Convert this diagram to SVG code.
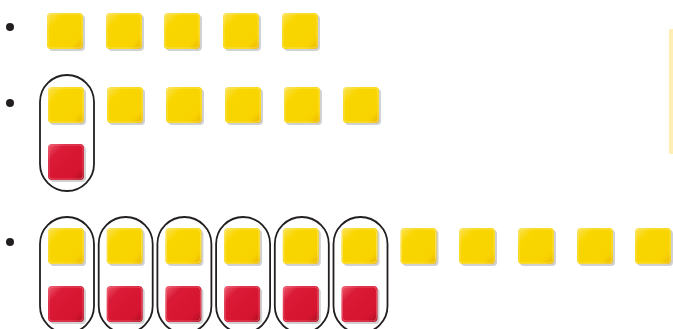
<svg xmlns="http://www.w3.org/2000/svg" xmlns:xlink="http://www.w3.org/1999/xlink" width="673" height="329" viewBox="0 0 673 329">
<style>
.bullet{fill:#231f20}
.oval{fill:none;stroke:#231f20;stroke-width:1.8}
</style>
<defs>
<linearGradient id="gy" x1="0" y1="0" x2="1" y2="1">
<stop offset="0" stop-color="#FBE25A"/>
<stop offset="0.25" stop-color="#F9D600"/>
<stop offset="0.8" stop-color="#F8D300"/>
<stop offset="1" stop-color="#E9B400"/>
</linearGradient>
<linearGradient id="gr" x1="0" y1="0" x2="1" y2="1">
<stop offset="0" stop-color="#EE5A6E"/>
<stop offset="0.25" stop-color="#DA1A36"/>
<stop offset="0.8" stop-color="#D5142F"/>
<stop offset="1" stop-color="#A80E22"/>
</linearGradient>
<g id="ys">
<rect x="2" y="2" width="36" height="36" rx="4" fill="#9a9a9a" opacity="0.45"/>
<rect x="0" y="0" width="36" height="36" rx="4" fill="url(#gy)"/>
<rect x="1" y="1" width="34" height="34" rx="3.5" fill="none" stroke="#FDEB8A" stroke-width="0.8" opacity="0.7"/>
</g>
<g id="rs">
<rect x="2" y="2" width="36" height="36" rx="4" fill="#9a9a9a" opacity="0.45"/>
<rect x="0" y="0" width="36" height="36" rx="4" fill="url(#gr)"/>
<rect x="1" y="1" width="34" height="34" rx="3.5" fill="none" stroke="#F28A98" stroke-width="0.8" opacity="0.6"/>
</g>
</defs>
<rect x="669" y="29" width="4" height="125" fill="#FFEFB5"/>
<g id="bullets">
<circle class="bullet" cx="10" cy="27" r="4"/>
<circle class="bullet" cx="10" cy="103" r="4"/>
<circle class="bullet" cx="10" cy="242" r="4"/>
</g>
<g id="row1">
<use xlink:href="#ys" x="47" y="13"/>
<use xlink:href="#ys" x="106" y="13"/>
<use xlink:href="#ys" x="164" y="13"/>
<use xlink:href="#ys" x="223" y="13"/>
<use xlink:href="#ys" x="282" y="13"/>
</g>
<g id="row2">
<use xlink:href="#ys" x="48" y="87"/>
<use xlink:href="#rs" x="48" y="144"/>
<use xlink:href="#ys" x="107" y="87"/>
<use xlink:href="#ys" x="166" y="87"/>
<use xlink:href="#ys" x="225" y="87"/>
<use xlink:href="#ys" x="284" y="87"/>
<use xlink:href="#ys" x="343" y="87"/>
<rect class="oval" x="40" y="75" width="54" height="116" rx="27"/>
</g>
<g id="row3">
<use xlink:href="#ys" x="48" y="228"/>
<use xlink:href="#ys" x="106.7" y="228"/>
<use xlink:href="#ys" x="165.4" y="228"/>
<use xlink:href="#ys" x="224.1" y="228"/>
<use xlink:href="#ys" x="282.8" y="228"/>
<use xlink:href="#ys" x="341.5" y="228"/>
<use xlink:href="#ys" x="400.5" y="228"/>
<use xlink:href="#ys" x="459" y="228"/>
<use xlink:href="#ys" x="518" y="228"/>
<use xlink:href="#ys" x="577" y="228"/>
<use xlink:href="#ys" x="635" y="228"/>
<use xlink:href="#rs" x="48" y="286"/>
<use xlink:href="#rs" x="106.7" y="286"/>
<use xlink:href="#rs" x="165.4" y="286"/>
<use xlink:href="#rs" x="224.1" y="286"/>
<use xlink:href="#rs" x="282.8" y="286"/>
<use xlink:href="#rs" x="341.5" y="286"/>
<rect class="oval" x="40" y="217" width="54" height="116" rx="27"/>
<rect class="oval" x="98.7" y="217" width="54" height="116" rx="27"/>
<rect class="oval" x="157.4" y="217" width="54" height="116" rx="27"/>
<rect class="oval" x="216.1" y="217" width="54" height="116" rx="27"/>
<rect class="oval" x="274.8" y="217" width="54" height="116" rx="27"/>
<rect class="oval" x="333.5" y="217" width="54" height="116" rx="27"/>
</g>
</svg>
